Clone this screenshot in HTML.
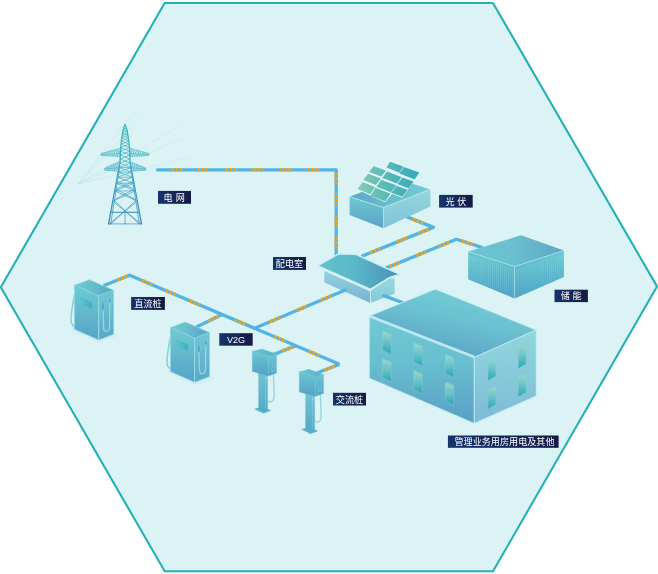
<!DOCTYPE html>
<html lang="zh-CN">
<head>
<meta charset="utf-8">
<title>充电站微电网示意图</title>
<style>
html,body{margin:0;padding:0;background:#ffffff;}
body{width:658px;height:574px;overflow:hidden;font-family:"Liberation Sans","Noto Sans CJK SC",sans-serif;}
svg{display:block;will-change:transform;}
</style>
</head>
<body>
<svg width="658" height="574" viewBox="0 0 658 574" font-family="'Liberation Sans', 'Noto Sans CJK SC', sans-serif">
<defs>
<linearGradient id="g1" gradientUnits="userSpaceOnUse" x1="78" y1="184" x2="146.6" y2="96.6"><stop offset="0" stop-color="#BCDDE7"/><stop offset="0.15" stop-color="#BFE1E9"/><stop offset="0.8" stop-color="#C6E6EC"/><stop offset="1" stop-color="#DCF3F5"/></linearGradient>
<linearGradient id="g2" gradientUnits="userSpaceOnUse" x1="78" y1="184" x2="159.5" y2="97.9"><stop offset="0" stop-color="#BCDDE7"/><stop offset="0.15" stop-color="#BFE1E9"/><stop offset="0.8" stop-color="#C6E6EC"/><stop offset="1" stop-color="#DCF3F5"/></linearGradient>
<linearGradient id="g3" gradientUnits="userSpaceOnUse" x1="78" y1="184" x2="195.7" y2="117.3"><stop offset="0" stop-color="#BCDDE7"/><stop offset="0.15" stop-color="#BFE1E9"/><stop offset="0.8" stop-color="#C6E6EC"/><stop offset="1" stop-color="#DCF3F5"/></linearGradient>
<linearGradient id="g4" gradientUnits="userSpaceOnUse" x1="78" y1="184" x2="202.1" y2="130.2"><stop offset="0" stop-color="#BCDDE7"/><stop offset="0.15" stop-color="#BFE1E9"/><stop offset="0.8" stop-color="#C6E6EC"/><stop offset="1" stop-color="#DCF3F5"/></linearGradient>
<linearGradient id="g5" gradientUnits="userSpaceOnUse" x1="78" y1="184" x2="209.9" y2="152.7"><stop offset="0" stop-color="#BCDDE7"/><stop offset="0.15" stop-color="#BFE1E9"/><stop offset="0.8" stop-color="#C6E6EC"/><stop offset="1" stop-color="#DCF3F5"/></linearGradient>
<linearGradient id="g6" gradientUnits="userSpaceOnUse" x1="0" y1="124.2" x2="0" y2="224.3"><stop offset="0" stop-color="#3FBAC2"/><stop offset="0.45" stop-color="#3FAAC4"/><stop offset="1" stop-color="#3E8BBE"/></linearGradient>
<linearGradient id="g7" gradientUnits="userSpaceOnUse" x1="349.6" y1="0" x2="430.4" y2="0"><stop offset="0" stop-color="#5DA9C8"/><stop offset="0.45" stop-color="#67BCCD"/><stop offset="1" stop-color="#72CBD3"/></linearGradient>
<linearGradient id="g8" gradientUnits="userSpaceOnUse" x1="0" y1="196.8" x2="0" y2="228.3"><stop offset="0" stop-color="#6DC9D2"/><stop offset="1" stop-color="#5AA2C7"/></linearGradient>
<linearGradient id="g9" gradientUnits="userSpaceOnUse" x1="0" y1="189.4" x2="0" y2="228.3"><stop offset="0" stop-color="#93D6DC"/><stop offset="1" stop-color="#82C2D8"/></linearGradient>
<linearGradient id="g10" gradientUnits="userSpaceOnUse" x1="358" y1="0" x2="419" y2="0"><stop offset="0" stop-color="#86CCB3"/><stop offset="0.5" stop-color="#55B8B7"/><stop offset="1" stop-color="#36A9B9"/></linearGradient>
<linearGradient id="g11" gradientUnits="userSpaceOnUse" x1="468.2" y1="0" x2="563.9" y2="0"><stop offset="0" stop-color="#6CC5D0"/><stop offset="0.4" stop-color="#6AC2CF"/><stop offset="1" stop-color="#5EA6C6"/></linearGradient>
<linearGradient id="g12" gradientUnits="userSpaceOnUse" x1="0" y1="257.6" x2="0" y2="298.4"><stop offset="0" stop-color="#66C6D0"/><stop offset="0.3" stop-color="#5BB9CB"/><stop offset="1" stop-color="#4A9FC7"/></linearGradient>
<linearGradient id="g13" gradientUnits="userSpaceOnUse" x1="0" y1="256.5" x2="0" y2="298.4"><stop offset="0" stop-color="#66C6D0"/><stop offset="0.3" stop-color="#5BB9CB"/><stop offset="1" stop-color="#4A9FC7"/></linearGradient>
<linearGradient id="g14" gradientUnits="userSpaceOnUse" x1="0" y1="252" x2="0" y2="298"><stop offset="0" stop-color="#7FD3DA"/><stop offset="0.3" stop-color="#7FD3DA"/><stop offset="1" stop-color="#5FB0CF"/></linearGradient>
<linearGradient id="g15" gradientUnits="userSpaceOnUse" x1="0" y1="272" x2="0" y2="303"><stop offset="0" stop-color="#92D0DE"/><stop offset="1" stop-color="#79B4D1"/></linearGradient>
<linearGradient id="g16" gradientUnits="userSpaceOnUse" x1="0" y1="277" x2="0" y2="303"><stop offset="0" stop-color="#97D9DE"/><stop offset="1" stop-color="#86CAD9"/></linearGradient>
<linearGradient id="g17" gradientUnits="userSpaceOnUse" x1="322" y1="0" x2="397" y2="0"><stop offset="0" stop-color="#60C3CB"/><stop offset="0.4" stop-color="#5BBAC9"/><stop offset="1" stop-color="#4C92B8"/></linearGradient>
<linearGradient id="g18" gradientUnits="userSpaceOnUse" x1="462" y1="292" x2="448" y2="356"><stop offset="0" stop-color="#73CBD3"/><stop offset="0.4" stop-color="#6BC2D0"/><stop offset="1" stop-color="#5CA4C8"/></linearGradient>
<linearGradient id="g19" gradientUnits="userSpaceOnUse" x1="0" y1="316.0" x2="0" y2="423.4"><stop offset="0" stop-color="#70CAD2"/><stop offset="0.42" stop-color="#68BFCF"/><stop offset="1" stop-color="#5A9FC6"/></linearGradient>
<linearGradient id="g20" gradientUnits="userSpaceOnUse" x1="0" y1="329.9" x2="0" y2="423.4"><stop offset="0" stop-color="#92D6DD"/><stop offset="1" stop-color="#7DBAD6"/></linearGradient>
<linearGradient id="g21" gradientUnits="userSpaceOnUse" x1="0" y1="331.2" x2="0" y2="354.1514285714286"><stop offset="0" stop-color="#9AD6D0"/><stop offset="0.45" stop-color="#6CC4C8"/><stop offset="1" stop-color="#2CA5B8"/></linearGradient>
<linearGradient id="g22" gradientUnits="userSpaceOnUse" x1="0" y1="358.8" x2="0" y2="381.7514285714286"><stop offset="0" stop-color="#9AD6D0"/><stop offset="0.45" stop-color="#6CC4C8"/><stop offset="1" stop-color="#2CA5B8"/></linearGradient>
<linearGradient id="g23" gradientUnits="userSpaceOnUse" x1="0" y1="343.0" x2="0" y2="365.9514285714286"><stop offset="0" stop-color="#9AD6D0"/><stop offset="0.45" stop-color="#6CC4C8"/><stop offset="1" stop-color="#2CA5B8"/></linearGradient>
<linearGradient id="g24" gradientUnits="userSpaceOnUse" x1="0" y1="370.6" x2="0" y2="393.55142857142863"><stop offset="0" stop-color="#9AD6D0"/><stop offset="0.45" stop-color="#6CC4C8"/><stop offset="1" stop-color="#2CA5B8"/></linearGradient>
<linearGradient id="g25" gradientUnits="userSpaceOnUse" x1="0" y1="354.6" x2="0" y2="377.55142857142863"><stop offset="0" stop-color="#9AD6D0"/><stop offset="0.45" stop-color="#6CC4C8"/><stop offset="1" stop-color="#2CA5B8"/></linearGradient>
<linearGradient id="g26" gradientUnits="userSpaceOnUse" x1="0" y1="382.20000000000005" x2="0" y2="405.15142857142865"><stop offset="0" stop-color="#9AD6D0"/><stop offset="0.45" stop-color="#6CC4C8"/><stop offset="1" stop-color="#2CA5B8"/></linearGradient>
<linearGradient id="g27" gradientUnits="userSpaceOnUse" x1="0" y1="357.6573268921095" x2="0" y2="380.7"><stop offset="0" stop-color="#9AD6D0"/><stop offset="0.45" stop-color="#6CC4C8"/><stop offset="1" stop-color="#2CA5B8"/></linearGradient>
<linearGradient id="g28" gradientUnits="userSpaceOnUse" x1="0" y1="386.1573268921095" x2="0" y2="409.2"><stop offset="0" stop-color="#9AD6D0"/><stop offset="0.45" stop-color="#6CC4C8"/><stop offset="1" stop-color="#2CA5B8"/></linearGradient>
<linearGradient id="g29" gradientUnits="userSpaceOnUse" x1="0" y1="345.55732689210953" x2="0" y2="368.6"><stop offset="0" stop-color="#9AD6D0"/><stop offset="0.45" stop-color="#6CC4C8"/><stop offset="1" stop-color="#2CA5B8"/></linearGradient>
<linearGradient id="g30" gradientUnits="userSpaceOnUse" x1="0" y1="374.05732689210953" x2="0" y2="397.1"><stop offset="0" stop-color="#9AD6D0"/><stop offset="0.45" stop-color="#6CC4C8"/><stop offset="1" stop-color="#2CA5B8"/></linearGradient>
<linearGradient id="g31" gradientUnits="userSpaceOnUse" x1="74.6" y1="0" x2="113.6" y2="0"><stop offset="0" stop-color="#6FC8D1"/><stop offset="0.4" stop-color="#68BFCE"/><stop offset="1" stop-color="#58A3C5"/></linearGradient>
<linearGradient id="g32" gradientUnits="userSpaceOnUse" x1="0" y1="285.2" x2="0" y2="339.9"><stop offset="0" stop-color="#6FC9D2"/><stop offset="0.3" stop-color="#68C0CF"/><stop offset="1" stop-color="#56A3C6"/></linearGradient>
<linearGradient id="g33" gradientUnits="userSpaceOnUse" x1="0" y1="290.3" x2="0" y2="339.9"><stop offset="0" stop-color="#6FC7D2"/><stop offset="0.3" stop-color="#69BFD0"/><stop offset="1" stop-color="#5CA6C9"/></linearGradient>
<linearGradient id="g34" gradientUnits="userSpaceOnUse" x1="80" y1="0" x2="92" y2="0"><stop offset="0" stop-color="#5FC3CD"/><stop offset="1" stop-color="#3FAEC3"/></linearGradient>
<linearGradient id="g35" gradientUnits="userSpaceOnUse" x1="170.5" y1="0" x2="209.5" y2="0"><stop offset="0" stop-color="#6FC8D1"/><stop offset="0.4" stop-color="#68BFCE"/><stop offset="1" stop-color="#58A3C5"/></linearGradient>
<linearGradient id="g36" gradientUnits="userSpaceOnUse" x1="0" y1="327.5" x2="0" y2="382.2"><stop offset="0" stop-color="#6FC9D2"/><stop offset="0.3" stop-color="#68C0CF"/><stop offset="1" stop-color="#56A3C6"/></linearGradient>
<linearGradient id="g37" gradientUnits="userSpaceOnUse" x1="0" y1="332.6" x2="0" y2="382.2"><stop offset="0" stop-color="#6FC7D2"/><stop offset="0.3" stop-color="#69BFD0"/><stop offset="1" stop-color="#5CA6C9"/></linearGradient>
<linearGradient id="g38" gradientUnits="userSpaceOnUse" x1="175.9" y1="0" x2="187.9" y2="0"><stop offset="0" stop-color="#5FC3CD"/><stop offset="1" stop-color="#3FAEC3"/></linearGradient>
<linearGradient id="g39" gradientUnits="userSpaceOnUse" x1="0" y1="372" x2="0" y2="411"><stop offset="0" stop-color="#6CC5D1"/><stop offset="1" stop-color="#56A8C8"/></linearGradient>
<linearGradient id="g40" gradientUnits="userSpaceOnUse" x1="0" y1="372" x2="0" y2="411"><stop offset="0" stop-color="#6FC7D2"/><stop offset="1" stop-color="#59AAC9"/></linearGradient>
<linearGradient id="g41" gradientUnits="userSpaceOnUse" x1="252.2" y1="0" x2="276.6" y2="0"><stop offset="0" stop-color="#6FC8D1"/><stop offset="1" stop-color="#5BAAC8"/></linearGradient>
<linearGradient id="g42" gradientUnits="userSpaceOnUse" x1="0" y1="351.3" x2="0" y2="376.2"><stop offset="0" stop-color="#6DC7D1"/><stop offset="0.35" stop-color="#62B9CE"/><stop offset="1" stop-color="#52A2C6"/></linearGradient>
<linearGradient id="g43" gradientUnits="userSpaceOnUse" x1="0" y1="354.1" x2="0" y2="376.2"><stop offset="0" stop-color="#6CC4D1"/><stop offset="0.4" stop-color="#62B8CE"/><stop offset="1" stop-color="#55A3C8"/></linearGradient>
<linearGradient id="g44" gradientUnits="userSpaceOnUse" x1="0" y1="392.4" x2="0" y2="431.4"><stop offset="0" stop-color="#6CC5D1"/><stop offset="1" stop-color="#56A8C8"/></linearGradient>
<linearGradient id="g45" gradientUnits="userSpaceOnUse" x1="0" y1="392.4" x2="0" y2="431.4"><stop offset="0" stop-color="#6FC7D2"/><stop offset="1" stop-color="#59AAC9"/></linearGradient>
<linearGradient id="g46" gradientUnits="userSpaceOnUse" x1="299.2" y1="0" x2="323.6" y2="0"><stop offset="0" stop-color="#6FC8D1"/><stop offset="1" stop-color="#5BAAC8"/></linearGradient>
<linearGradient id="g47" gradientUnits="userSpaceOnUse" x1="0" y1="371.7" x2="0" y2="396.59999999999997"><stop offset="0" stop-color="#6DC7D1"/><stop offset="0.35" stop-color="#62B9CE"/><stop offset="1" stop-color="#52A2C6"/></linearGradient>
<linearGradient id="g48" gradientUnits="userSpaceOnUse" x1="0" y1="374.5" x2="0" y2="396.59999999999997"><stop offset="0" stop-color="#6CC4D1"/><stop offset="0.4" stop-color="#62B8CE"/><stop offset="1" stop-color="#55A3C8"/></linearGradient>
<linearGradient id="g49" gradientUnits="userSpaceOnUse" x1="158.0" y1="0" x2="191.0" y2="0"><stop offset="0" stop-color="#15346B"/><stop offset="1" stop-color="#141A45"/></linearGradient>
<linearGradient id="g50" gradientUnits="userSpaceOnUse" x1="439.1" y1="0" x2="472.70000000000005" y2="0"><stop offset="0" stop-color="#15346B"/><stop offset="1" stop-color="#141A45"/></linearGradient>
<linearGradient id="g51" gradientUnits="userSpaceOnUse" x1="273.0" y1="0" x2="306.0" y2="0"><stop offset="0" stop-color="#15346B"/><stop offset="1" stop-color="#141A45"/></linearGradient>
<linearGradient id="g52" gradientUnits="userSpaceOnUse" x1="554.5" y1="0" x2="587.9" y2="0"><stop offset="0" stop-color="#15346B"/><stop offset="1" stop-color="#141A45"/></linearGradient>
<linearGradient id="g53" gradientUnits="userSpaceOnUse" x1="131.1" y1="0" x2="164.89999999999998" y2="0"><stop offset="0" stop-color="#15346B"/><stop offset="1" stop-color="#141A45"/></linearGradient>
<linearGradient id="g54" gradientUnits="userSpaceOnUse" x1="219.3" y1="0" x2="252.70000000000002" y2="0"><stop offset="0" stop-color="#15346B"/><stop offset="1" stop-color="#141A45"/></linearGradient>
<linearGradient id="g55" gradientUnits="userSpaceOnUse" x1="333.0" y1="0" x2="366.0" y2="0"><stop offset="0" stop-color="#15346B"/><stop offset="1" stop-color="#141A45"/></linearGradient>
<linearGradient id="g56" gradientUnits="userSpaceOnUse" x1="447.9" y1="0" x2="558.6" y2="0"><stop offset="0" stop-color="#15346B"/><stop offset="1" stop-color="#141A45"/></linearGradient>
</defs>
<polygon points="164.7,3.0 493.0,3.0 657.0,286.4 493.0,571.3 164.7,571.3 0.8,287.3" fill="#DCF3F5" stroke="#23B1B7" stroke-width="2.1" stroke-linejoin="round" />
<line x1="78" y1="184" x2="146.6" y2="96.6" stroke="url(#g1)" stroke-width="0.7" opacity="0.85"/>
<line x1="78" y1="184" x2="159.5" y2="97.9" stroke="url(#g2)" stroke-width="0.7" opacity="0.85"/>
<line x1="78" y1="184" x2="195.7" y2="117.3" stroke="url(#g3)" stroke-width="0.7" opacity="0.85"/>
<line x1="78" y1="184" x2="202.1" y2="130.2" stroke="url(#g4)" stroke-width="0.7" opacity="0.85"/>
<line x1="78" y1="184" x2="209.9" y2="152.7" stroke="url(#g5)" stroke-width="0.7" opacity="0.85"/>
<path d="M157.5,169.8 L336.2,169.8 L336.2,255.5" fill="none" stroke="#52B4E6" stroke-width="3.3" stroke-linejoin="round" stroke-linecap="round"/>
<g transform="translate(176.6,169.8) rotate(0.0)" fill="#F0A816"><path d="M-6.00,-1.9 L-3.90,-1.9 L-2.40,0 L-3.90,1.9 L-6.00,1.9 L-4.90,0 Z"/><path d="M-1.80,-1.9 L0.30,-1.9 L1.80,0 L0.30,1.9 L-1.80,1.9 L-0.70,0 Z"/><path d="M2.40,-1.9 L4.50,-1.9 L6.00,0 L4.50,1.9 L2.40,1.9 L3.50,0 Z"/></g>
<g transform="translate(203.0,169.8) rotate(0.0)" fill="#F0A816"><path d="M-6.00,-1.9 L-3.90,-1.9 L-2.40,0 L-3.90,1.9 L-6.00,1.9 L-4.90,0 Z"/><path d="M-1.80,-1.9 L0.30,-1.9 L1.80,0 L0.30,1.9 L-1.80,1.9 L-0.70,0 Z"/><path d="M2.40,-1.9 L4.50,-1.9 L6.00,0 L4.50,1.9 L2.40,1.9 L3.50,0 Z"/></g>
<g transform="translate(230.4,169.8) rotate(0.0)" fill="#F0A816"><path d="M-6.00,-1.9 L-3.90,-1.9 L-2.40,0 L-3.90,1.9 L-6.00,1.9 L-4.90,0 Z"/><path d="M-1.80,-1.9 L0.30,-1.9 L1.80,0 L0.30,1.9 L-1.80,1.9 L-0.70,0 Z"/><path d="M2.40,-1.9 L4.50,-1.9 L6.00,0 L4.50,1.9 L2.40,1.9 L3.50,0 Z"/></g>
<g transform="translate(257.8,169.8) rotate(0.0)" fill="#F0A816"><path d="M-6.00,-1.9 L-3.90,-1.9 L-2.40,0 L-3.90,1.9 L-6.00,1.9 L-4.90,0 Z"/><path d="M-1.80,-1.9 L0.30,-1.9 L1.80,0 L0.30,1.9 L-1.80,1.9 L-0.70,0 Z"/><path d="M2.40,-1.9 L4.50,-1.9 L6.00,0 L4.50,1.9 L2.40,1.9 L3.50,0 Z"/></g>
<g transform="translate(285.4,169.8) rotate(0.0)" fill="#F0A816"><path d="M-6.00,-1.9 L-3.90,-1.9 L-2.40,0 L-3.90,1.9 L-6.00,1.9 L-4.90,0 Z"/><path d="M-1.80,-1.9 L0.30,-1.9 L1.80,0 L0.30,1.9 L-1.80,1.9 L-0.70,0 Z"/><path d="M2.40,-1.9 L4.50,-1.9 L6.00,0 L4.50,1.9 L2.40,1.9 L3.50,0 Z"/></g>
<g transform="translate(313.2,169.8) rotate(0.0)" fill="#F0A816"><path d="M-6.00,-1.9 L-3.90,-1.9 L-2.40,0 L-3.90,1.9 L-6.00,1.9 L-4.90,0 Z"/><path d="M-1.80,-1.9 L0.30,-1.9 L1.80,0 L0.30,1.9 L-1.80,1.9 L-0.70,0 Z"/><path d="M2.40,-1.9 L4.50,-1.9 L6.00,0 L4.50,1.9 L2.40,1.9 L3.50,0 Z"/></g>
<g transform="translate(336.2,178.4) rotate(90.0)" fill="#F0A816"><path d="M-6.00,-1.9 L-3.90,-1.9 L-2.40,0 L-3.90,1.9 L-6.00,1.9 L-4.90,0 Z"/><path d="M-1.80,-1.9 L0.30,-1.9 L1.80,0 L0.30,1.9 L-1.80,1.9 L-0.70,0 Z"/><path d="M2.40,-1.9 L4.50,-1.9 L6.00,0 L4.50,1.9 L2.40,1.9 L3.50,0 Z"/></g>
<g transform="translate(336.2,199.8) rotate(90.0)" fill="#F0A816"><path d="M-6.00,-1.9 L-3.90,-1.9 L-2.40,0 L-3.90,1.9 L-6.00,1.9 L-4.90,0 Z"/><path d="M-1.80,-1.9 L0.30,-1.9 L1.80,0 L0.30,1.9 L-1.80,1.9 L-0.70,0 Z"/><path d="M2.40,-1.9 L4.50,-1.9 L6.00,0 L4.50,1.9 L2.40,1.9 L3.50,0 Z"/></g>
<g transform="translate(336.2,221.1) rotate(90.0)" fill="#F0A816"><path d="M-6.00,-1.9 L-3.90,-1.9 L-2.40,0 L-3.90,1.9 L-6.00,1.9 L-4.90,0 Z"/><path d="M-1.80,-1.9 L0.30,-1.9 L1.80,0 L0.30,1.9 L-1.80,1.9 L-0.70,0 Z"/><path d="M2.40,-1.9 L4.50,-1.9 L6.00,0 L4.50,1.9 L2.40,1.9 L3.50,0 Z"/></g>
<g transform="translate(336.2,242.4) rotate(90.0)" fill="#F0A816"><path d="M-6.00,-1.9 L-3.90,-1.9 L-2.40,0 L-3.90,1.9 L-6.00,1.9 L-4.90,0 Z"/><path d="M-1.80,-1.9 L0.30,-1.9 L1.80,0 L0.30,1.9 L-1.80,1.9 L-0.70,0 Z"/><path d="M2.40,-1.9 L4.50,-1.9 L6.00,0 L4.50,1.9 L2.40,1.9 L3.50,0 Z"/></g>
<path d="M406.4,216.6 L433.4,227.4 L361.5,256.4" fill="none" stroke="#52B4E6" stroke-width="3.3" stroke-linejoin="round" stroke-linecap="butt"/>
<g transform="translate(417.7,221.1) rotate(21.8)" fill="#F0A816"><path d="M-6.00,-1.9 L-3.90,-1.9 L-2.40,0 L-3.90,1.9 L-6.00,1.9 L-4.90,0 Z"/><path d="M-1.80,-1.9 L0.30,-1.9 L1.80,0 L0.30,1.9 L-1.80,1.9 L-0.70,0 Z"/><path d="M2.40,-1.9 L4.50,-1.9 L6.00,0 L4.50,1.9 L2.40,1.9 L3.50,0 Z"/></g>
<g transform="translate(423.4,231.4) rotate(158.0)" fill="#F0A816"><path d="M-6.00,-1.9 L-3.90,-1.9 L-2.40,0 L-3.90,1.9 L-6.00,1.9 L-4.90,0 Z"/><path d="M-1.80,-1.9 L0.30,-1.9 L1.80,0 L0.30,1.9 L-1.80,1.9 L-0.70,0 Z"/><path d="M2.40,-1.9 L4.50,-1.9 L6.00,0 L4.50,1.9 L2.40,1.9 L3.50,0 Z"/></g>
<g transform="translate(402.1,240.0) rotate(158.0)" fill="#F0A816"><path d="M-6.00,-1.9 L-3.90,-1.9 L-2.40,0 L-3.90,1.9 L-6.00,1.9 L-4.90,0 Z"/><path d="M-1.80,-1.9 L0.30,-1.9 L1.80,0 L0.30,1.9 L-1.80,1.9 L-0.70,0 Z"/><path d="M2.40,-1.9 L4.50,-1.9 L6.00,0 L4.50,1.9 L2.40,1.9 L3.50,0 Z"/></g>
<g transform="translate(375.5,250.7) rotate(158.0)" fill="#F0A816"><path d="M-6.00,-1.9 L-3.90,-1.9 L-2.40,0 L-3.90,1.9 L-6.00,1.9 L-4.90,0 Z"/><path d="M-1.80,-1.9 L0.30,-1.9 L1.80,0 L0.30,1.9 L-1.80,1.9 L-0.70,0 Z"/><path d="M2.40,-1.9 L4.50,-1.9 L6.00,0 L4.50,1.9 L2.40,1.9 L3.50,0 Z"/></g>
<path d="M385.9,268.1 L456.4,239.3 L482.5,247.6" fill="none" stroke="#52B4E6" stroke-width="3.3" stroke-linejoin="round" stroke-linecap="butt"/>
<g transform="translate(394.6,264.5) rotate(-22.2)" fill="#F0A816"><path d="M-6.00,-1.9 L-3.90,-1.9 L-2.40,0 L-3.90,1.9 L-6.00,1.9 L-4.90,0 Z"/><path d="M-1.80,-1.9 L0.30,-1.9 L1.80,0 L0.30,1.9 L-1.80,1.9 L-0.70,0 Z"/><path d="M2.40,-1.9 L4.50,-1.9 L6.00,0 L4.50,1.9 L2.40,1.9 L3.50,0 Z"/></g>
<g transform="translate(421.3,253.7) rotate(-22.2)" fill="#F0A816"><path d="M-6.00,-1.9 L-3.90,-1.9 L-2.40,0 L-3.90,1.9 L-6.00,1.9 L-4.90,0 Z"/><path d="M-1.80,-1.9 L0.30,-1.9 L1.80,0 L0.30,1.9 L-1.80,1.9 L-0.70,0 Z"/><path d="M2.40,-1.9 L4.50,-1.9 L6.00,0 L4.50,1.9 L2.40,1.9 L3.50,0 Z"/></g>
<g transform="translate(443.7,244.5) rotate(-22.2)" fill="#F0A816"><path d="M-6.00,-1.9 L-3.90,-1.9 L-2.40,0 L-3.90,1.9 L-6.00,1.9 L-4.90,0 Z"/><path d="M-1.80,-1.9 L0.30,-1.9 L1.80,0 L0.30,1.9 L-1.80,1.9 L-0.70,0 Z"/><path d="M2.40,-1.9 L4.50,-1.9 L6.00,0 L4.50,1.9 L2.40,1.9 L3.50,0 Z"/></g>
<g transform="translate(467.1,242.7) rotate(17.6)" fill="#F0A816"><path d="M-6.00,-1.9 L-3.90,-1.9 L-2.40,0 L-3.90,1.9 L-6.00,1.9 L-4.90,0 Z"/><path d="M-1.80,-1.9 L0.30,-1.9 L1.80,0 L0.30,1.9 L-1.80,1.9 L-0.70,0 Z"/><path d="M2.40,-1.9 L4.50,-1.9 L6.00,0 L4.50,1.9 L2.40,1.9 L3.50,0 Z"/></g>
<path d="M103.5,285.8 L129.6,275.2 L339.5,364.3" fill="none" stroke="#52B4E6" stroke-width="3.3" stroke-linejoin="round" stroke-linecap="butt"/>
<g transform="translate(122.6,278.1) rotate(157.9)" fill="#F0A816"><path d="M-6.00,-1.9 L-3.90,-1.9 L-2.40,0 L-3.90,1.9 L-6.00,1.9 L-4.90,0 Z"/><path d="M-1.80,-1.9 L0.30,-1.9 L1.80,0 L0.30,1.9 L-1.80,1.9 L-0.70,0 Z"/><path d="M2.40,-1.9 L4.50,-1.9 L6.00,0 L4.50,1.9 L2.40,1.9 L3.50,0 Z"/></g>
<g transform="translate(147.3,282.7) rotate(203.0)" fill="#F0A816"><path d="M-6.00,-1.9 L-3.90,-1.9 L-2.40,0 L-3.90,1.9 L-6.00,1.9 L-4.90,0 Z"/><path d="M-1.80,-1.9 L0.30,-1.9 L1.80,0 L0.30,1.9 L-1.80,1.9 L-0.70,0 Z"/><path d="M2.40,-1.9 L4.50,-1.9 L6.00,0 L4.50,1.9 L2.40,1.9 L3.50,0 Z"/></g>
<g transform="translate(170.7,292.6) rotate(203.0)" fill="#F0A816"><path d="M-6.00,-1.9 L-3.90,-1.9 L-2.40,0 L-3.90,1.9 L-6.00,1.9 L-4.90,0 Z"/><path d="M-1.80,-1.9 L0.30,-1.9 L1.80,0 L0.30,1.9 L-1.80,1.9 L-0.70,0 Z"/><path d="M2.40,-1.9 L4.50,-1.9 L6.00,0 L4.50,1.9 L2.40,1.9 L3.50,0 Z"/></g>
<g transform="translate(194.8,302.9) rotate(203.0)" fill="#F0A816"><path d="M-6.00,-1.9 L-3.90,-1.9 L-2.40,0 L-3.90,1.9 L-6.00,1.9 L-4.90,0 Z"/><path d="M-1.80,-1.9 L0.30,-1.9 L1.80,0 L0.30,1.9 L-1.80,1.9 L-0.70,0 Z"/><path d="M2.40,-1.9 L4.50,-1.9 L6.00,0 L4.50,1.9 L2.40,1.9 L3.50,0 Z"/></g>
<g transform="translate(240.1,322.1) rotate(203.0)" fill="#F0A816"><path d="M-6.00,-1.9 L-3.90,-1.9 L-2.40,0 L-3.90,1.9 L-6.00,1.9 L-4.90,0 Z"/><path d="M-1.80,-1.9 L0.30,-1.9 L1.80,0 L0.30,1.9 L-1.80,1.9 L-0.70,0 Z"/><path d="M2.40,-1.9 L4.50,-1.9 L6.00,0 L4.50,1.9 L2.40,1.9 L3.50,0 Z"/></g>
<g transform="translate(279.1,338.7) rotate(23.0)" fill="#F0A816"><path d="M-6.00,-1.9 L-3.90,-1.9 L-2.40,0 L-3.90,1.9 L-6.00,1.9 L-4.90,0 Z"/><path d="M-1.80,-1.9 L0.30,-1.9 L1.80,0 L0.30,1.9 L-1.80,1.9 L-0.70,0 Z"/><path d="M2.40,-1.9 L4.50,-1.9 L6.00,0 L4.50,1.9 L2.40,1.9 L3.50,0 Z"/></g>
<g transform="translate(313.7,353.3) rotate(23.0)" fill="#F0A816"><path d="M-6.00,-1.9 L-3.90,-1.9 L-2.40,0 L-3.90,1.9 L-6.00,1.9 L-4.90,0 Z"/><path d="M-1.80,-1.9 L0.30,-1.9 L1.80,0 L0.30,1.9 L-1.80,1.9 L-0.70,0 Z"/><path d="M2.40,-1.9 L4.50,-1.9 L6.00,0 L4.50,1.9 L2.40,1.9 L3.50,0 Z"/></g>
<path d="M222.0,314.4 L196.0,327.3" fill="none" stroke="#52B4E6" stroke-width="3.3" stroke-linejoin="round" stroke-linecap="butt"/>
<g transform="translate(213.8,318.5) rotate(153.7)" fill="#F0A816"><path d="M-6.00,-1.9 L-3.90,-1.9 L-2.40,0 L-3.90,1.9 L-6.00,1.9 L-4.90,0 Z"/><path d="M-1.80,-1.9 L0.30,-1.9 L1.80,0 L0.30,1.9 L-1.80,1.9 L-0.70,0 Z"/><path d="M2.40,-1.9 L4.50,-1.9 L6.00,0 L4.50,1.9 L2.40,1.9 L3.50,0 Z"/></g>
<path d="M295.6,345.7 L273.5,354.6" fill="none" stroke="#52B4E6" stroke-width="3.3" stroke-linejoin="round" stroke-linecap="butt"/>
<g transform="translate(287.7,348.9) rotate(158.0)" fill="#F0A816"><path d="M-6.00,-1.9 L-3.90,-1.9 L-2.40,0 L-3.90,1.9 L-6.00,1.9 L-4.90,0 Z"/><path d="M-1.80,-1.9 L0.30,-1.9 L1.80,0 L0.30,1.9 L-1.80,1.9 L-0.70,0 Z"/><path d="M2.40,-1.9 L4.50,-1.9 L6.00,0 L4.50,1.9 L2.40,1.9 L3.50,0 Z"/></g>
<path d="M339.5,364.3 L317.0,373.0" fill="none" stroke="#52B4E6" stroke-width="3.3" stroke-linejoin="round" stroke-linecap="butt"/>
<g transform="translate(329.7,368.1) rotate(158.9)" fill="#F0A816"><path d="M-6.00,-1.9 L-3.90,-1.9 L-2.40,0 L-3.90,1.9 L-6.00,1.9 L-4.90,0 Z"/><path d="M-1.80,-1.9 L0.30,-1.9 L1.80,0 L0.30,1.9 L-1.80,1.9 L-0.70,0 Z"/><path d="M2.40,-1.9 L4.50,-1.9 L6.00,0 L4.50,1.9 L2.40,1.9 L3.50,0 Z"/></g>
<path d="M108.45,224.3 L120.05,162.0 L120.65,148.0 L121.35,141.0 L122.95,130.4 L125.05,124.2 M141.65,224.3 L130.05,162.0 L129.45,148.0 L128.75,141.0 L127.15,130.4 L125.05,124.2" fill="none" stroke="url(#g6)" stroke-width="1.3" stroke-linejoin="round"/>
<path d="M110.65,224.3 L119.94,165 M139.45,224.3 L130.16,165" fill="none" stroke="url(#g6)" stroke-width="0.8"/>
<path d="M110.68,212.3 L139.42,212.3" fill="none" stroke="url(#g6)" stroke-width="1.1"/>
<path d="M108.45,224.3 L137.37,201.3 M141.65,224.3 L112.73,201.3 M112.73,201.3 L135.43,190.9 M137.37,201.3 L114.67,190.9 M114.67,190.9 L135.43,190.9 M114.53,199.5 L133.99,189.4 M135.57,199.5 L116.11,189.4 M114.67,190.9 L134.00,183.2 M135.43,190.9 L116.10,183.2 M116.10,183.2 L134.00,183.2 M116.16,189.1 L132.78,181.7 M133.94,189.1 L117.32,181.7 M116.10,183.2 L132.88,177.2 M134.00,183.2 L117.22,177.2 M117.22,177.2 L132.88,177.2 M117.22,177.2 L131.95,172.2 M132.88,177.2 L118.15,172.2 M118.15,172.2 L131.95,172.2 M118.15,172.2 L131.09,167.6 M131.95,172.2 L119.01,167.6 M119.01,167.6 L131.09,167.6 M119.01,167.6 L130.27,163.2 M131.09,167.6 L119.83,163.2 M119.83,163.2 L129.92,159.0 M130.27,163.2 L120.18,159.0 M120.18,159.0 L129.75,155.0 M129.92,159.0 L120.35,155.0 M120.35,155.0 L129.59,151.2 M129.75,155.0 L120.51,151.2 M120.51,151.2 L129.41,147.6 M129.59,151.2 L120.69,147.6 M120.69,147.6 L129.07,144.2 M129.41,147.6 L121.03,144.2 M121.03,144.2 L128.75,141.0 M129.07,144.2 L121.35,141.0 M121.35,141.0 L128.30,138.0 M128.75,141.0 L121.80,138.0 M121.80,138.0 L127.87,135.2 M128.30,138.0 L122.23,135.2 M122.23,135.2 L127.48,132.6 M127.87,135.2 L122.62,132.6 M122.62,132.6 L127.08,130.2 M127.48,132.6 L123.02,130.2 M123.02,130.2 L126.34,128.0 M127.08,130.2 L123.76,128.0 M125.05,212.3 L125.05,224.3 M108.45,223.9 L141.65,223.9 M110.65,224.3 L135.85,200.3 M139.45,224.3 L114.25,200.3" fill="none" stroke="url(#g6)" stroke-width="0.7" stroke-linejoin="round"/>
<path d="M120.65,148.0 L101.1,153.5 L101.1,155.5 L120.28,156.6 M120.47,153.5 L101.1,154.5 M120.65,148.00 L117.88,156.46 L115.76,149.38 L113.09,156.19 L110.88,150.75 L108.29,155.91 L105.99,152.12 L103.50,155.64 L101.10,153.50 M120.28,156.60 L118.21,148.69 L115.49,156.32 L113.32,150.06 L110.69,156.05 L108.43,151.44 L105.90,155.78 L103.54,152.81 L101.10,155.50 M129.45,148.0 L148.8,153.5 L148.8,155.5 L129.82,156.6 M129.63,153.5 L148.8,154.5 M129.45,148.00 L132.19,156.46 L134.29,149.38 L136.94,156.19 L139.12,150.75 L141.68,155.91 L143.96,152.12 L146.43,155.64 L148.80,153.50 M129.82,156.60 L131.87,148.69 L134.56,156.32 L136.71,150.06 L139.31,156.05 L141.54,151.44 L144.05,155.78 L146.38,152.81 L148.80,155.50 M120.07,161.6 L104.8,168.0 L104.8,170.2 L118.34,171.2 M119.23,167.6 L104.8,169.1 M120.07,161.60 L116.40,171.06 L115.71,163.43 L112.54,170.77 L111.34,165.26 L108.67,170.49 L106.98,167.09 L104.80,170.20 M118.34,171.20 L117.89,162.51 L114.47,170.91 L113.52,164.34 L110.60,170.63 L109.16,166.17 L106.73,170.34 L104.80,168.00 M130.03,161.6 L145.6,168.0 L145.6,170.2 L131.76,171.2 M130.87,167.6 L145.6,169.1 M130.03,161.60 L133.74,171.06 L134.48,163.43 L137.69,170.77 L138.93,165.26 L141.65,170.49 L143.38,167.09 L145.60,170.20 M131.76,171.20 L132.26,162.51 L135.72,170.91 L136.70,164.34 L139.67,170.63 L141.15,166.17 L143.62,170.34 L145.60,168.00" fill="none" stroke="url(#g6)" stroke-width="0.55" stroke-linejoin="round"/>
<polygon points="349.6,196.8 396.4,178.6 430.4,189.4 383.6,207.6" fill="url(#g7)" />
<polygon points="349.6,196.8 383.6,207.6 383.6,228.3 349.6,214.9" fill="url(#g8)" />
<polygon points="383.6,207.6 430.4,189.4 430.4,206.4 383.6,228.3" fill="url(#g9)" />
<path d="M349.6,196.8 L383.6,207.6 L430.4,189.4 M383.6,207.6 L383.6,228.3" fill="none" stroke="#BDE9F0" stroke-width="0.9" opacity="0.85"/>
<polygon points="373.9,166.4 387.2,171.5 390.3,162.0 418.7,172.4 402.1,196.5 391.6,192.7 384.8,201.1 358.0,188.8" fill="#E6F7FC" stroke="#E0F5FB" stroke-width="2.2" stroke-linejoin="round" />
<polygon points="373.6,166.0 385.9,170.7 381.2,176.6 369.0,171.9" fill="url(#g10)" />
<polygon points="368.2,173.7 380.8,178.6 375.8,185.0 363.2,180.1" fill="url(#g10)" />
<polygon points="362.5,181.9 375.0,186.9 370.3,194.2 357.4,188.9" fill="url(#g10)" />
<polygon points="390.0,161.7 403.4,166.6 399.6,172.8 386.5,167.5" fill="url(#g10)" />
<polygon points="386.9,171.5 401.5,177.0 397.0,183.5 382.2,177.9" fill="url(#g10)" />
<polygon points="381.2,179.7 396.1,185.3 390.8,192.3 376.3,186.7" fill="url(#g10)" />
<polygon points="375.5,187.8 390.4,193.7 385.1,201.5 370.5,195.4" fill="url(#g10)" />
<polygon points="403.9,166.9 419.4,172.4 414.5,179.4 399.5,173.5" fill="url(#g10)" />
<polygon points="402.3,177.5 413.5,181.6 408.5,188.4 397.4,184.0" fill="url(#g10)" />
<polygon points="396.4,185.7 407.6,189.8 402.3,196.8 391.1,192.7" fill="url(#g10)" />
<polygon points="468.2,251.6 521.0,235.3 563.9,250.5 514.6,266.6" fill="url(#g11)" />
<polygon points="468.2,251.6 514.6,266.6 514.6,298.4 468.2,279.3" fill="url(#g12)" />
<polygon points="514.6,266.6 563.9,250.5 563.9,277.1 514.6,298.4" fill="url(#g13)" />
<path d="M470.2,255.3 L470.2,280.1 M472.2,255.9 L472.2,281.0 M474.3,256.6 L474.3,281.8 M476.3,257.2 L476.3,282.6 M478.3,257.9 L478.3,283.5 M480.3,258.5 L480.3,284.3 M482.3,259.2 L482.3,285.1 M484.3,259.8 L484.3,285.9 M486.4,260.5 L486.4,286.8 M488.4,261.1 L488.4,287.6 M490.4,261.8 L490.4,288.4 M492.4,262.4 L492.4,289.3 M494.4,263.1 L494.4,290.1 M496.4,263.7 L496.4,290.9 M498.5,264.4 L498.5,291.8 M500.5,265.0 L500.5,292.6 M502.5,265.7 L502.5,293.4 M504.5,266.3 L504.5,294.2 M506.5,267.0 L506.5,295.1 M508.5,267.6 L508.5,295.9 M510.6,268.3 L510.6,296.7 M512.6,268.9 L512.6,297.6 M516.7,268.9 L516.7,297.5 M518.7,268.3 L518.7,296.6 M520.8,267.6 L520.8,295.7 M522.8,266.9 L522.8,294.8 M524.9,266.2 L524.9,294.0 M526.9,265.6 L526.9,293.1 M529.0,264.9 L529.0,292.2 M531.0,264.2 L531.0,291.3 M533.1,263.6 L533.1,290.4 M535.1,262.9 L535.1,289.5 M537.2,262.2 L537.2,288.6 M539.2,261.6 L539.2,287.8 M541.3,260.9 L541.3,286.9 M543.4,260.2 L543.4,286.0 M545.4,259.5 L545.4,285.1 M547.5,258.9 L547.5,284.2 M549.5,258.2 L549.5,283.3 M551.6,257.5 L551.6,282.4 M553.6,256.9 L553.6,281.5 M555.7,256.2 L555.7,280.7 M557.7,255.5 L557.7,279.8 M559.8,254.8 L559.8,278.9 M561.8,254.2 L561.8,278.0" stroke="url(#g14)" stroke-width="0.7" fill="none" opacity="0.7"/>
<path d="M468.2,251.6 L514.6,266.6 L563.9,250.5 M514.6,266.6 L514.6,298.4" fill="none" stroke="#B5E5EE" stroke-width="0.8" opacity="0.85"/>
<polygon points="324.4,271.0 370.5,291.5 370.5,303.0 324.4,282.4" fill="url(#g15)" />
<polygon points="370.5,291.0 389.0,278.2 394.6,278.6 394.6,293.8 370.5,303.0" fill="url(#g16)" />
<path d="M370.5,291.5 L370.5,303" stroke="#C9EEF3" stroke-width="1" fill="none"/>
<path d="M317.9,265.8 L338.6,253.9 L355.8,254.3 L400.2,274.6 C393,275.9 389.5,276.8 386.2,279.6 L370.2,289.2 Z" fill="url(#g17)" stroke="#CDEFF5" stroke-width="1.3" stroke-linejoin="round"/>
<path d="M345.3,290.0 L254.6,328.3" fill="none" stroke="#52B4E6" stroke-width="3.3" stroke-linejoin="round" stroke-linecap="round"/>
<g transform="translate(326.1,298.1) rotate(157.1)" fill="#F0A816"><path d="M-6.00,-1.9 L-3.90,-1.9 L-2.40,0 L-3.90,1.9 L-6.00,1.9 L-4.90,0 Z"/><path d="M-1.80,-1.9 L0.30,-1.9 L1.80,0 L0.30,1.9 L-1.80,1.9 L-0.70,0 Z"/><path d="M2.40,-1.9 L4.50,-1.9 L6.00,0 L4.50,1.9 L2.40,1.9 L3.50,0 Z"/></g>
<g transform="translate(302.0,308.3) rotate(157.1)" fill="#F0A816"><path d="M-6.00,-1.9 L-3.90,-1.9 L-2.40,0 L-3.90,1.9 L-6.00,1.9 L-4.90,0 Z"/><path d="M-1.80,-1.9 L0.30,-1.9 L1.80,0 L0.30,1.9 L-1.80,1.9 L-0.70,0 Z"/><path d="M2.40,-1.9 L4.50,-1.9 L6.00,0 L4.50,1.9 L2.40,1.9 L3.50,0 Z"/></g>
<g transform="translate(274.9,319.7) rotate(157.1)" fill="#F0A816"><path d="M-6.00,-1.9 L-3.90,-1.9 L-2.40,0 L-3.90,1.9 L-6.00,1.9 L-4.90,0 Z"/><path d="M-1.80,-1.9 L0.30,-1.9 L1.80,0 L0.30,1.9 L-1.80,1.9 L-0.70,0 Z"/><path d="M2.40,-1.9 L4.50,-1.9 L6.00,0 L4.50,1.9 L2.40,1.9 L3.50,0 Z"/></g>
<path d="M383.6,295.6 L403.0,302.7" fill="none" stroke="#52B4E6" stroke-width="3.3" stroke-linejoin="round" stroke-linecap="round"/>
<polygon points="369.2,316.0 435.4,289.0 536.3,329.9 474.2,357.4" fill="url(#g18)" />
<polygon points="369.2,316.0 474.2,357.4 474.2,423.4 369.2,378.2" fill="url(#g19)" />
<polygon points="474.2,357.4 536.3,329.9 536.3,396.0 474.2,423.4" fill="url(#g20)" />
<polygon points="369.2,314.4 474.2,355.6 474.2,358.6 369.2,317.4" fill="#BDE7F2" />
<path d="M474.2,357.4 L536.3,329.9" stroke="#C3EBF2" stroke-width="1.0" fill="none"/>
<path d="M474.2,356.4 L474.2,423.4" stroke="#BFE9F2" stroke-width="1.1" fill="none"/>
<path d="M369.2,316.0 L369.2,378.2 L474.2,423.4 L536.3,396.0 L536.3,329.9 L435.4,289.0 Z" stroke="#C8EDF6" stroke-width="1.1" fill="none" opacity="0.9"/>
<polygon points="382.6,331.2 391.1,334.6 391.1,354.2 382.6,350.2" fill="url(#g21)" stroke="#8AD3DA" stroke-width="0.4" stroke-linejoin="round" />
<polygon points="382.6,358.8 391.1,362.2 391.1,381.8 382.6,377.8" fill="url(#g22)" stroke="#8AD3DA" stroke-width="0.4" stroke-linejoin="round" />
<polygon points="413.8,343.0 422.3,346.4 422.3,366.0 413.8,362.0" fill="url(#g23)" stroke="#8AD3DA" stroke-width="0.4" stroke-linejoin="round" />
<polygon points="413.8,370.6 422.3,374.0 422.3,393.6 413.8,389.6" fill="url(#g24)" stroke="#8AD3DA" stroke-width="0.4" stroke-linejoin="round" />
<polygon points="445.3,354.6 453.8,358.0 453.8,377.6 445.3,373.6" fill="url(#g25)" stroke="#8AD3DA" stroke-width="0.4" stroke-linejoin="round" />
<polygon points="445.3,382.2 453.8,385.6 453.8,405.2 445.3,401.2" fill="url(#g26)" stroke="#8AD3DA" stroke-width="0.4" stroke-linejoin="round" />
<polygon points="487.9,361.2 495.9,357.7 495.9,376.0 487.9,380.7" fill="url(#g27)" stroke="#8AD3DA" stroke-width="0.4" stroke-linejoin="round" />
<polygon points="487.9,389.7 495.9,386.2 495.9,404.5 487.9,409.2" fill="url(#g28)" stroke="#8AD3DA" stroke-width="0.4" stroke-linejoin="round" />
<polygon points="518.2,349.1 526.2,345.6 526.2,363.9 518.2,368.6" fill="url(#g29)" stroke="#8AD3DA" stroke-width="0.4" stroke-linejoin="round" />
<polygon points="518.2,377.6 526.2,374.1 526.2,392.4 518.2,397.1" fill="url(#g30)" stroke="#8AD3DA" stroke-width="0.4" stroke-linejoin="round" />
<polygon points="70.0,330.0 98.7,343.0 118.0,336.0 113.6,331.0 74.6,325.0" fill="#D2EEF5" />
<polygon points="74.6,285.2 89.4,279.7 113.6,290.3 98.7,295.9" fill="url(#g31)" stroke="#8FDCE2" stroke-width="0.7" stroke-linejoin="round" />
<polygon points="74.6,285.2 98.7,295.9 98.7,339.9 74.6,329.2" fill="url(#g32)" stroke="#86D5DE" stroke-width="0.6" stroke-linejoin="round" />
<polygon points="98.7,295.9 113.6,290.3 113.6,334.2 98.7,339.9" fill="url(#g33)" stroke="#86D5DE" stroke-width="0.6" stroke-linejoin="round" />
<path d="M98.7,295.9 L98.7,339.9" stroke="#9BE0E6" stroke-width="0.8"/>
<polygon points="80.2,297.2 92.1,302.3 92.1,309.2 80.2,304.1" fill="url(#g34)" />
<path d="M103.0,310.0 L103.7,328.5 C104.0,333.0 109.6,332.0 109.6,327.0 L109.8,302.6" fill="none" stroke="#92DAE2" stroke-width="1.25"/>
<polygon points="101.7,303.0 104.1,302.2 104.1,309.6 101.7,310.4" fill="#4B9FCC" stroke="#8FD8E4" stroke-width="0.5" stroke-linejoin="round" />
<polygon points="108.6,298.4 110.7,297.7 110.7,302.4 108.6,303.1" fill="#4B9FCC" stroke="#8FD8E4" stroke-width="0.5" stroke-linejoin="round" />
<path d="M74.6,294.5 C73.1,302.5 71.0,312.0 71.0,320.0 C71.0,324.0 72.6,325.5 74.6,326.5" fill="none" stroke="#80D0DB" stroke-width="1.5"/>
<polygon points="165.9,372.3 194.6,385.3 213.9,378.3 209.5,373.3 170.5,367.3" fill="#D2EEF5" />
<polygon points="170.5,327.5 185.3,322.0 209.5,332.6 194.6,338.2" fill="url(#g35)" stroke="#8FDCE2" stroke-width="0.7" stroke-linejoin="round" />
<polygon points="170.5,327.5 194.6,338.2 194.6,382.2 170.5,371.5" fill="url(#g36)" stroke="#86D5DE" stroke-width="0.6" stroke-linejoin="round" />
<polygon points="194.6,338.2 209.5,332.6 209.5,376.5 194.6,382.2" fill="url(#g37)" stroke="#86D5DE" stroke-width="0.6" stroke-linejoin="round" />
<path d="M194.6,338.2 L194.6,382.2" stroke="#9BE0E6" stroke-width="0.8"/>
<polygon points="176.1,339.5 188.0,344.6 188.0,351.5 176.1,346.4" fill="url(#g38)" />
<path d="M198.9,352.3 L199.6,370.8 C199.9,375.3 205.5,374.3 205.5,369.3 L205.7,344.9" fill="none" stroke="#92DAE2" stroke-width="1.25"/>
<polygon points="197.6,345.3 200.0,344.5 200.0,351.9 197.6,352.7" fill="#4B9FCC" stroke="#8FD8E4" stroke-width="0.5" stroke-linejoin="round" />
<polygon points="204.5,340.7 206.6,340.0 206.6,344.7 204.5,345.4" fill="#4B9FCC" stroke="#8FD8E4" stroke-width="0.5" stroke-linejoin="round" />
<path d="M170.5,336.8 C169.0,344.8 166.9,354.3 166.9,362.3 C166.9,366.3 168.5,367.8 170.5,368.8" fill="none" stroke="#80D0DB" stroke-width="1.5"/>
<polygon points="254.0,408.9 262.4,406.6 271.2,410.6 263.6,413.5" fill="#5BB3CC" />
<polygon points="258.4,372.0 265.2,374.5 265.2,411.4 258.4,408.9" fill="url(#g39)" />
<polygon points="265.2,374.5 267.8,373.5 267.8,410.4 265.2,411.4" fill="url(#g40)" />
<path d="M273.3,371.0 L274.2,395.5 C274.4,400.5 271.5,402.3 269.6,401.8 L268.0,400.4" fill="none" stroke="#93D8E1" stroke-width="1.45" stroke-linecap="round"/>
<polygon points="252.2,351.3 262.0,348.9 276.6,354.1 268.2,356.8" fill="url(#g41)" stroke="#7ACFD9" stroke-width="0.4" stroke-linejoin="round" />
<polygon points="252.2,351.3 268.2,356.8 268.2,376.2 252.2,371.5" fill="url(#g42)" stroke="#6FC4D4" stroke-width="0.3" stroke-linejoin="round" />
<polygon points="268.2,356.8 276.6,354.1 276.6,373.0 268.2,376.2" fill="url(#g43)" stroke="#6FC4D4" stroke-width="0.3" stroke-linejoin="round" />
<polygon points="271.9,366.9 274.3,366.1 274.3,370.6 271.9,371.4" fill="#4AA0C8" stroke="#93D8E4" stroke-width="0.6" stroke-linejoin="round" />
<path d="M265.6,378.2 L268.0,377.4" stroke="#A0E0E8" stroke-width="0.8"/>
<polygon points="301.0,429.3 309.4,427.0 318.2,431.0 310.6,433.9" fill="#5BB3CC" />
<polygon points="305.4,392.4 312.2,394.9 312.2,431.8 305.4,429.3" fill="url(#g44)" />
<polygon points="312.2,394.9 314.8,393.9 314.8,430.8 312.2,431.8" fill="url(#g45)" />
<path d="M320.3,391.4 L321.2,415.9 C321.4,420.9 318.5,422.7 316.6,422.2 L315.0,420.8" fill="none" stroke="#93D8E1" stroke-width="1.45" stroke-linecap="round"/>
<polygon points="299.2,371.7 309.0,369.3 323.6,374.5 315.2,377.2" fill="url(#g46)" stroke="#7ACFD9" stroke-width="0.4" stroke-linejoin="round" />
<polygon points="299.2,371.7 315.2,377.2 315.2,396.6 299.2,391.9" fill="url(#g47)" stroke="#6FC4D4" stroke-width="0.3" stroke-linejoin="round" />
<polygon points="315.2,377.2 323.6,374.5 323.6,393.4 315.2,396.6" fill="url(#g48)" stroke="#6FC4D4" stroke-width="0.3" stroke-linejoin="round" />
<polygon points="318.9,387.3 321.3,386.5 321.3,391.0 318.9,391.8" fill="#4AA0C8" stroke="#93D8E4" stroke-width="0.6" stroke-linejoin="round" />
<path d="M312.6,398.6 L315.0,397.8" stroke="#A0E0E8" stroke-width="0.8"/>
<rect x="158.0" y="190.9" width="33.0" height="12.9" fill="url(#g49)"/>
<text x="174.1" y="200.7" text-anchor="middle" font-size="9.1" fill="#ffffff" word-spacing="0.7">电 网</text>
<rect x="439.1" y="194.9" width="33.6" height="12.7" fill="url(#g50)"/>
<text x="455.9" y="204.6" text-anchor="middle" font-size="9.1" fill="#ffffff" word-spacing="0">光 伏</text>
<rect x="273.0" y="257.0" width="33.0" height="12.9" fill="url(#g51)"/>
<text x="289.5" y="266.8" text-anchor="middle" font-size="9.1" fill="#ffffff" word-spacing="0">配电室</text>
<rect x="554.5" y="289.7" width="33.4" height="12.4" fill="url(#g52)"/>
<text x="571.2" y="299.2" text-anchor="middle" font-size="9.1" fill="#ffffff" word-spacing="0">储 能</text>
<rect x="131.1" y="297.0" width="33.8" height="12.9" fill="url(#g53)"/>
<text x="148.0" y="306.8" text-anchor="middle" font-size="9.1" fill="#ffffff" word-spacing="0">直流桩</text>
<rect x="219.3" y="333.2" width="33.4" height="12.5" fill="url(#g54)"/>
<text x="236.0" y="342.8" text-anchor="middle" font-size="9.1" fill="#ffffff" word-spacing="0">V2G</text>
<rect x="333.0" y="392.8" width="33.0" height="12.7" fill="url(#g55)"/>
<text x="349.5" y="402.5" text-anchor="middle" font-size="9.1" fill="#ffffff" word-spacing="0">交流桩</text>
<rect x="447.9" y="435.5" width="110.7" height="12.3" fill="url(#g56)"/>
<text x="504.5" y="444.9" text-anchor="middle" font-size="9.1" fill="#ffffff" word-spacing="0">管理业务用房用电及其他</text>
</svg>
</body>
</html>
